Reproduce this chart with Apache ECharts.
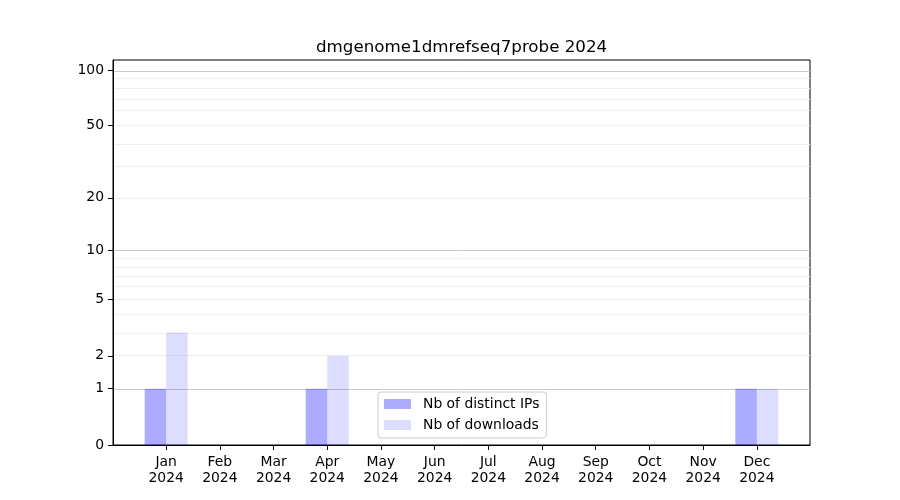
<!DOCTYPE html>
<html>
<head>
<meta charset="utf-8">
<script src="https://cdn.jsdelivr.net/npm/echarts@6/dist/echarts.min.js"></script>
<style>html,body{margin:0;padding:0;background:#fff;}#c{width:900px;height:500px;}</style>
</head>
<body>
<div id="c"></div>
<script>
var titleText = 'dmgenome1dmrefseq7probe 2024';
var months = ['Jan','Feb','Mar','Apr','May','Jun','Jul','Aug','Sep','Oct','Nov','Dec'];
var year = '2024';
var distinctIPs = [1,0,0,1,0,0,0,0,0,0,0,1];
var downloads = [3,0,0,2,0,0,0,0,0,0,0,1];
var yTicks = [0,1,2,5,10,20,50,100];
var majorGrid = [1,10,100];
var minorGrid = [2,3,4,5,6,7,8,9,20,30,40,50,60,70,80,90];

function tf(v){ return Math.log10(1 + v); }
function inv(t){ return Math.round(Math.pow(10, t) - 1); }

var idx = months.map(function(_, i){ return i; });
var font = 'DejaVu Sans';

var gridLines = majorGrid.map(function(v){
  return {yAxis: tf(v), lineStyle: {color: '#cbcbcb', width: 1, type: 'solid'}};
}).concat(minorGrid.map(function(v){
  return {yAxis: tf(v), lineStyle: {color: '#efefef', width: 1, type: 'solid'}};
}));

var chart = echarts.init(document.getElementById('c'), null, {renderer: 'canvas'});
chart.setOption({
  animation: false,
  backgroundColor: '#fff',
  title: {
    text: titleText,
    left: 311,
    top: 34,
    textStyle: {fontFamily: font, fontSize: 16.7, fontWeight: 'normal', color: '#000'}
  },
  grid: {left: 113, right: 90, top: 60, bottom: 55, show: true, borderColor: '#000', borderWidth: 1, backgroundColor: 'transparent', containLabel: false},
  legend: {
    orient: 'vertical',
    left: 378,
    top: 392,
    padding: [5, 7, 6, 6],
    itemGap: 7,
    itemWidth: 27,
    itemHeight: 10,
    icon: 'rect',
    backgroundColor: 'rgba(255,255,255,0.85)',
    borderColor: '#cccccc',
    borderWidth: 1,
    borderRadius: 3,
    textStyle: {fontFamily: font, fontSize: 13.9, color: '#000', lineHeight: 14, padding: [0, 0, 0, 7]},
    data: ['Nb of distinct IPs', 'Nb of downloads']
  },
  xAxis: {
    type: 'value',
    min: -0.99,
    max: 11.99,
    axisLine: {show: true, onZero: false, lineStyle: {color: '#000'}},
    axisTick: {show: true, customValues: idx, length: 5, inside: false, lineStyle: {color: '#000'}},
    axisLabel: {
      customValues: idx,
      margin: 9,
      fontFamily: font, fontSize: 13.9, color: '#000', lineHeight: 16,
      formatter: function(v){ return months[Math.round(v)] + '\n' + year; }
    },
    splitLine: {show: false}
  },
  yAxis: {
    type: 'value',
    min: 0,
    max: 2.059,
    axisLine: {show: true, onZero: false, lineStyle: {color: '#000'}},
    axisTick: {show: true, customValues: yTicks.map(tf), length: 5, lineStyle: {color: '#000'}},
    axisLabel: {
      customValues: yTicks.map(tf),
      margin: 9,
      padding: [3, 0, 0, 0],
      fontFamily: font, fontSize: 13.9, color: '#000',
      formatter: function(t){ return String(inv(t)); }
    },
    splitLine: {show: false}
  },
  series: [
    {
      name: 'Nb of distinct IPs',
      type: 'bar',
      barWidth: 21.5,
      barGap: '0%',
      itemStyle: {color: 'rgba(0,0,255,0.33)'},
      data: distinctIPs.map(function(v, i){ return [i, tf(v)]; }),
      markLine: {silent: true, symbol: 'none', label: {show: false}, animation: false, z: 0, data: gridLines},
      z: 2
    },
    {
      name: 'Nb of downloads',
      type: 'bar',
      barWidth: 21.5,
      barGap: '0%',
      itemStyle: {color: 'rgba(0,0,255,0.135)'},
      data: downloads.map(function(v, i){ return [i, tf(v)]; }),
      z: 2
    }
  ]
});
</script>
</body>
</html>
